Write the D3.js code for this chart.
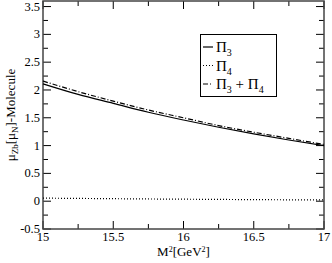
<!DOCTYPE html>
<html>
<head>
<meta charset="utf-8">
<script src="https://cdn.jsdelivr.net/npm/d3@7"></script>
<style>
  body { margin: 0; background: #fff; }
</style>
</head>
<body>
<div id="chart"></div>
<script>
// data
const m2 = [15, 15.25, 15.5, 15.75, 16, 16.25, 16.5, 16.75, 17];
const pi3 = [2.11, 1.92, 1.76, 1.60, 1.46, 1.33, 1.21, 1.10, 1.00];
const pi4 = [0.055, 0.050, 0.045, 0.040, 0.036, 0.032, 0.028, 0.025, 0.022];
const pi34 = [2.16, 1.97, 1.80, 1.64, 1.50, 1.36, 1.24, 1.13, 1.02];
const xTicks = [15, 15.5, 16, 16.5, 17];
const yTicks = [-0.5, 0, 0.5, 1, 1.5, 2, 2.5, 3, 3.5];

const width = 332, height = 263;
const margin = { top: 1, right: 8, bottom: 34, left: 43 };
const serif = "'Liberation Serif', 'Times New Roman', 'DejaVu Serif', serif";

const svg = d3.select("#chart").append("svg")
    .attr("width", width)
    .attr("height", height)
    .attr("font-family", serif)
    .style("font-family", serif);

const x = d3.scaleLinear().domain([15, 17]).range([margin.left, width - margin.right]);
const y = d3.scaleLinear().domain([-0.5, 3.6]).range([height - margin.bottom, margin.top]);

const x0 = x(15), x1 = x(17), y0 = y(-0.5), y1 = y(3.6);

// minor / major ticks, drawn inward on all four sides
const xMinor = d3.range(15.25, 17, 0.5);
const yMinor = d3.range(-0.25, 3.6, 0.5);
const tickG = svg.append("g").attr("stroke", "#000").attr("stroke-width", 1);

function xTick(v, len) {
    tickG.append("line").attr("x1", x(v)).attr("x2", x(v)).attr("y1", y0).attr("y2", y0 - len);
    tickG.append("line").attr("x1", x(v)).attr("x2", x(v)).attr("y1", y1).attr("y2", y1 + len);
}
function yTick(v, len) {
    tickG.append("line").attr("y1", y(v)).attr("y2", y(v)).attr("x1", x0).attr("x2", x0 + len);
    tickG.append("line").attr("y1", y(v)).attr("y2", y(v)).attr("x1", x1).attr("x2", x1 - len);
}
xTicks.forEach(v => xTick(v, 8));
xMinor.forEach(v => xTick(v, 5));
yTicks.forEach(v => yTick(v, 8));
yMinor.forEach(v => yTick(v, 5));

// frame
svg.append("rect")
    .attr("x", x0).attr("y", y1)
    .attr("width", x1 - x0).attr("height", y0 - y1)
    .attr("fill", "none").attr("stroke", "#444").attr("stroke-width", 1.5);

// tick labels
svg.append("g").selectAll("text").data(xTicks).join("text")
    .attr("x", d => x(d)).attr("y", y0 + 12)
    .attr("text-anchor", "middle").attr("font-size", 12.5)
    .text(d => d);

svg.append("g").selectAll("text").data(yTicks).join("text")
    .attr("x", x0 - 3).attr("y", d => y(d) + 4)
    .attr("text-anchor", "end").attr("font-size", 12.5)
    .text(d => d);

// axis titles
const xl = svg.append("text")
    .attr("x", (x0 + x1) / 2).attr("y", 256)
    .attr("text-anchor", "middle").attr("font-size", 13);
xl.append("tspan").text("M");
xl.append("tspan").attr("dy", -4).attr("font-size", 8).text("2");
xl.append("tspan").attr("dy", 4).text("[GeV");
xl.append("tspan").attr("dy", -4).attr("font-size", 8).text("2");
xl.append("tspan").attr("dy", 4).text("]");

const yl = svg.append("text")
    .attr("transform", `translate(15, ${(y0 + y1) / 2}) rotate(-90)`)
    .attr("text-anchor", "middle").attr("font-size", 13);
yl.append("tspan").text("μ");
yl.append("tspan").attr("dy", 3).attr("font-size", 9).text("Zb");
yl.append("tspan").attr("dy", -3).text("[μ");
yl.append("tspan").attr("dy", 3).attr("font-size", 9).text("N");
yl.append("tspan").attr("dy", -3).text("]-Molecule");

// curves
const line = d3.line().x(d => x(d[0])).y(d => y(d[1])).curve(d3.curveMonotoneX);
const series = [
    { name: "pi3", vals: pi3, dash: null },
    { name: "pi4", vals: pi4, dash: "1,2" },
    { name: "pi34", vals: pi34, dash: "5,2,1,2" }
];
series.forEach(s => {
    svg.append("path")
        .datum(m2.map((v, i) => [v, s.vals[i]]))
        .attr("d", line)
        .attr("fill", "none")
        .attr("stroke", "#000")
        .attr("stroke-width", 1.2)
        .attr("stroke-dasharray", s.dash);
});

// legend
const lg = svg.append("g");
lg.append("rect")
    .attr("x", 200.5).attr("y", 34.5).attr("width", 76).attr("height", 62)
    .attr("fill", "#fff").attr("stroke", "#000").attr("stroke-width", 1);

const legendRows = [
    { dash: null, parts: [["Π", 0], ["3", 1]] },
    { dash: "1,2", parts: [["Π", 0], ["4", 1]] },
    { dash: "5,2,1,2", parts: [["Π", 0], ["3", 1], [" + Π", 0], ["4", 1]] }
];
legendRows.forEach((r, i) => {
    const ly = 47 + i * 18.5;
    lg.append("line")
        .attr("x1", 203).attr("x2", 213).attr("y1", ly).attr("y2", ly)
        .attr("stroke", "#000").attr("stroke-width", 1.2)
        .attr("stroke-dasharray", r.dash);
    const t = lg.append("text").attr("x", 216).attr("y", ly + 5).attr("font-size", 15);
    let sub = 0;
    r.parts.forEach(p => {
        const dy = p[1] ? 4 : (sub ? -4 : 0);
        sub = p[1];
        t.append("tspan").attr("dy", dy).attr("font-size", p[1] ? 10 : 15)
            .attr("xml:space", "preserve").text(p[0]);
    });
});
</script>
</body>
</html>
